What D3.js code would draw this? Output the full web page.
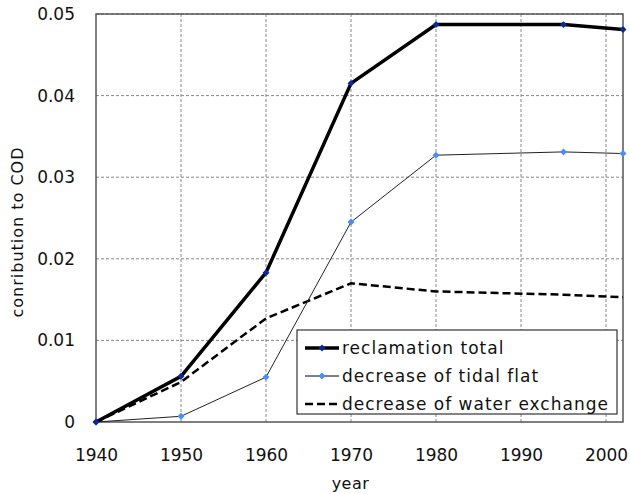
<!DOCTYPE html>
<html>
<head>
<meta charset="utf-8">
<script src="https://cdn.jsdelivr.net/npm/d3@7"></script>
<style>
  body { margin: 0; background: #fff; }
  text { font-family: "DejaVu Sans", sans-serif; fill: #111; }
</style>
</head>
<body>
<div id="chart"></div>
<script>
const years = [1940, 1950, 1960, 1970, 1980, 1995, 2002]
const reclamationTotal = [0, 0.0056, 0.0183, 0.0415, 0.0487, 0.0487, 0.0481]
const tidalFlat = [0, 0.0007, 0.0055, 0.0245, 0.0327, 0.0331, 0.0329]
const waterExchange = [0, 0.0049, 0.0127, 0.0170, 0.0160, 0.0156, 0.0153]
const xTicks = [1940, 1950, 1960, 1970, 1980, 1990, 2000]
const yTicks = [0, 0.01, 0.02, 0.03, 0.04, 0.05]
const seriesNames = ['reclamation total', 'decrease of tidal flat', 'decrease of water exchange']

const width = 630
const height = 494
const margin = { top: 14, right: 7, bottom: 72, left: 96 }
const w = width - margin.left - margin.right
const h = height - margin.top - margin.bottom

const svg = d3.select('#chart')
  .append('svg')
  .attr('width', width)
  .attr('height', height)

const g = svg.append('g')
  .attr('transform', 'translate(' + margin.left + ',' + margin.top + ')')

const x = d3.scaleLinear().domain([1940, 2002]).range([0, w])
const y = d3.scaleLinear().domain([0, 0.05]).range([h, 0])

// grid
g.selectAll('.vgrid')
  .data(xTicks.slice(1))
  .enter().append('line')
  .attr('x1', d => x(d)).attr('x2', d => x(d))
  .attr('y1', 0).attr('y2', h)
  .attr('stroke', '#888').attr('stroke-width', 1).attr('stroke-dasharray', '3,2')

g.selectAll('.hgrid')
  .data(yTicks.slice(1))
  .enter().append('line')
  .attr('x1', 0).attr('x2', w)
  .attr('y1', d => y(d)).attr('y2', d => y(d))
  .attr('stroke', '#888').attr('stroke-width', 1).attr('stroke-dasharray', '3,2')

// frame
g.append('rect')
  .attr('width', w).attr('height', h)
  .attr('fill', 'none').attr('stroke', '#555').attr('stroke-width', 1.5)

// axes
const xAxis = g.append('g')
  .attr('transform', 'translate(0,' + h + ')')
  .call(d3.axisBottom(x).tickValues(xTicks).tickFormat(d3.format('d')).tickSize(0).tickPadding(27))
xAxis.select('.domain').remove()
xAxis.selectAll('text').style('font-size', '17px').attr('fill', '#111')

const yAxis = g.append('g')
  .call(d3.axisLeft(y).tickValues(yTicks).tickFormat(d => d === 0 ? '0' : d3.format('.2f')(d)).tickSize(0).tickPadding(21))
yAxis.select('.domain').remove()
yAxis.selectAll('text').style('font-size', '17px').attr('fill', '#111')

svg.append('text')
  .attr('x', margin.left + w / 2 - 9)
  .attr('y', 489)
  .attr('text-anchor', 'middle')
  .style('font-size', '16px')
  .style('letter-spacing', '0.5px')
  .text('year')

svg.append('text')
  .attr('transform', 'translate(23,232) rotate(-90)')
  .attr('text-anchor', 'middle')
  .style('font-size', '16px')
  .style('letter-spacing', '1px')
  .text('conribution to COD')

const line = d3.line()
  .x((d, i) => x(years[i]))
  .y(d => y(d))

// square turned 45 degrees, like the spreadsheet markers
const diamond = d3.symbol().type(d3.symbolSquare).size(24)

g.append('path').datum(waterExchange)
  .attr('d', line).attr('fill', 'none')
  .attr('stroke', '#000').attr('stroke-width', 2.5).attr('stroke-dasharray', '8,4')

g.append('path').datum(tidalFlat)
  .attr('d', line).attr('fill', 'none')
  .attr('stroke', '#222').attr('stroke-width', 1)

g.selectAll('.tidal')
  .data(tidalFlat)
  .enter().append('path')
  .attr('d', diamond)
  .attr('transform', (d, i) => 'translate(' + x(years[i]) + ',' + y(d) + ') rotate(45)')
  .attr('fill', '#4a8cff')

g.append('path').datum(reclamationTotal)
  .attr('d', line).attr('fill', 'none')
  .attr('stroke', '#000').attr('stroke-width', 3.5)

g.selectAll('.total')
  .data(reclamationTotal)
  .enter().append('path')
  .attr('d', diamond)
  .attr('transform', (d, i) => 'translate(' + x(years[i]) + ',' + y(d) + ') rotate(45)')
  .attr('fill', '#0a2a9a')

// legend
const lg = svg.append('g').attr('transform', 'translate(297,330)')
lg.append('rect')
  .attr('width', 320).attr('height', 84)
  .attr('fill', '#fff').attr('stroke', '#333').attr('stroke-width', 1.2)

const legendStyles = [
  { w: 3.5, dash: null, marker: '#0a2a9a' },
  { w: 1, dash: null, marker: '#4a8cff' },
  { w: 2.5, dash: '8,4', marker: null }
]

seriesNames.forEach(function (name, i) {
  const ly = 18 + i * 28
  const s = legendStyles[i]
  lg.append('line')
    .attr('x1', 8).attr('x2', 42)
    .attr('y1', ly).attr('y2', ly)
    .attr('stroke', '#000').attr('stroke-width', s.w)
    .attr('stroke-dasharray', s.dash)
  if (s.marker) {
    lg.append('path').attr('d', diamond)
      .attr('transform', 'translate(25,' + ly + ') rotate(45)')
      .attr('fill', s.marker)
  }
  lg.append('text')
    .attr('x', 45).attr('y', ly + 6)
    .style('font-size', '17px')
    .style('letter-spacing', '1px')
    .text(name)
})
</script>
</body>
</html>
